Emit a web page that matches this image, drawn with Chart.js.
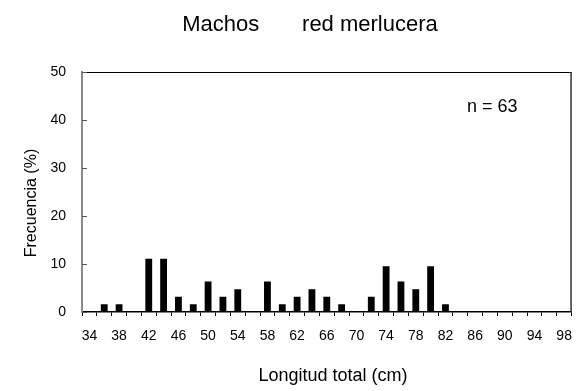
<!DOCTYPE html>
<html>
<head>
<meta charset="utf-8">
<script src="https://cdn.jsdelivr.net/npm/chart.js@4.4.1/dist/chart.umd.min.js"></script>
<style>
  html, body { margin: 0; padding: 0; background: #fff; }
  #box { width: 584px; height: 391px; }
</style>
</head>
<body>
<div id="box"><canvas id="myChart" width="584" height="391"></canvas></div>
<script>
// length classes (cm), every 2 cm
let lengths = [34, 36, 38, 40, 42, 44, 46, 48, 50, 52, 54, 56, 58, 60, 62, 64, 66,
               68, 70, 72, 74, 76, 78, 80, 82, 84, 86, 88, 90, 92, 94, 96, 98];
// frequency (%) per class, n = 63
let frequency = [0, 1.59, 1.59, 0, 11.11, 11.11, 3.17, 1.59, 6.35, 3.17, 4.76, 0, 6.35,
                 1.59, 3.17, 4.76, 3.17, 1.59, 0, 3.17, 9.52, 6.35, 4.76, 9.52, 1.59,
                 0, 0, 0, 0, 0, 0, 0, 0];
let tickLabels = ['34', '38', '42', '46', '50', '54', '58', '62', '66', '70', '74',
                  '78', '82', '86', '90', '94', '98'];
let yTicks = [0, 10, 20, 30, 40, 50];

let titleText = 'Machos       red merlucera';
let xTitle = 'Longitud total (cm)';
let yTitle = 'Frecuencia (%)';
let sampleText = 'n = 63';

const FONT = '"Liberation Sans", Arial, sans-serif';
Chart.defaults.font.family = FONT;
Chart.defaults.color = '#000';

// frame, inner ticks and the free text
const decorations = {
  id: 'decorations',
  afterDraw(chart) {
    const c = chart.ctx;
    const a = chart.chartArea;
    const y = chart.scales.y;
    c.save();
    c.strokeStyle = '#000';
    c.lineWidth = 1;
    c.beginPath();
    c.moveTo(a.left, a.top + 0.5);
    c.lineTo(a.right, a.top + 0.5);
    c.stroke();
    c.strokeStyle = '#333';
    c.lineWidth = 1.5;
    c.beginPath();
    c.moveTo(a.right - 0.5, a.top);
    c.lineTo(a.right - 0.5, a.bottom);
    c.stroke();

    c.strokeStyle = '#555';
    c.lineWidth = 1;
    yTicks.forEach(v => {
      const py = Math.round(y.getPixelForValue(v)) + 0.5;
      c.beginPath();
      c.moveTo(a.left, py);
      c.lineTo(a.left + 5, py);
      c.stroke();
    });

    c.fillStyle = '#000';
    c.textBaseline = 'alphabetic';
    c.textAlign = 'center';
    c.font = '22px ' + FONT;
    c.fillText(titleText, 310, 31);

    c.font = '18px ' + FONT;
    c.fillText(xTitle, 333, 381);

    c.textAlign = 'left';
    c.fillText(sampleText, 467, 112);

    c.translate(36, 203);
    c.rotate(-Math.PI / 2);
    c.textAlign = 'center';
    c.font = '16px ' + FONT;
    c.fillText(yTitle, 0, 0);
    c.restore();
  }
};

let ctx = document.getElementById('myChart').getContext('2d');

let myChart = new Chart(ctx, {
  type: 'bar',
  data: {
    labels: lengths,
    datasets: [{
      data: frequency,
      backgroundColor: '#000',
      borderWidth: 0,
      barPercentage: 0.46,
      categoryPercentage: 1
    }]
  },
  options: {
    responsive: false,
    animation: false,
    devicePixelRatio: 1,
    layout: { padding: { top: 72, right: 5, left: 0, bottom: 0 } },
    plugins: {
      legend: { display: false },
      tooltip: { enabled: false }
    },
    scales: {
      x: {
        offset: true,
        grid: { drawOnChartArea: false, drawTicks: true, tickLength: 4, color: '#000', offset: true },
        border: { color: '#000', width: 1.5 },
        ticks: {
          autoSkip: false,
          maxRotation: 0,
          padding: 12,
          font: { size: 14 },
          callback: function (value, index) {
            let s = String(lengths[index]);
            return tickLabels.includes(s) ? s : '';
          }
        },
        afterFit(scale) { scale.height = 79; }
      },
      y: {
        min: 0,
        max: 50,
        grid: { display: false, drawTicks: false },
        border: { display: true, color: '#8a8a8a', width: 2 },
        ticks: {
          stepSize: 10,
          padding: 16,
          font: { size: 14 }
        },
        afterFit(scale) { scale.width = 82; }
      }
    }
  },
  plugins: [decorations]
});
</script>
</body>
</html>
